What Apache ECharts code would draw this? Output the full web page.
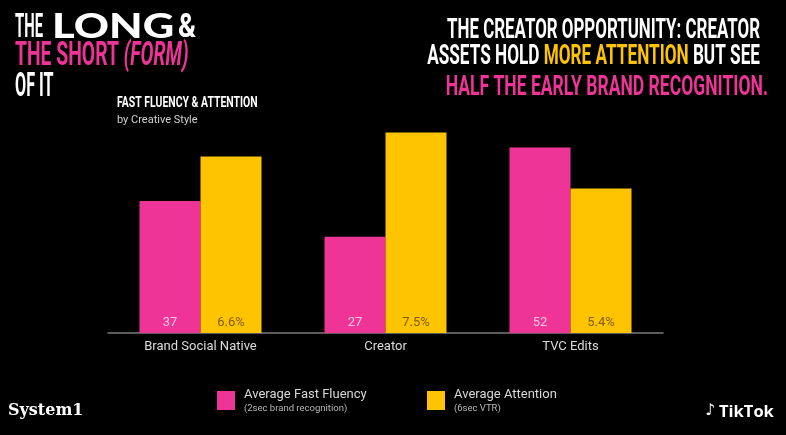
<!DOCTYPE html>
<html>
<head>
<meta charset="utf-8">
<script src="https://cdn.jsdelivr.net/npm/echarts@6/dist/echarts.min.js"></script>
<style>
  html, body { margin: 0; padding: 0; background: #000; }
  #chart { width: 786px; height: 435px; }
</style>
</head>
<body>
<div id="chart"></div>
<script>
const categories = ['Brand Social Native', 'Creator', 'TVC Edits'];
const fastFluency = [37, 27, 52];
const attention = [6.6, 7.5, 5.4];

const PINK = '#ee3497';
const YELLOW = '#ffc400';
const HEAD = 'Roboto';

let chart = echarts.init(document.getElementById('chart'));

// the headline font is a very condensed display face; squeeze Roboto to the same ink width
let measureCtx = document.createElement('canvas').getContext('2d');
function inkWidth(text, font) {
    measureCtx.font = font;
    let m = measureCtx.measureText(text);
    return m.actualBoundingBoxLeft + m.actualBoundingBoxRight;
}
function squeezed(text, plain, x, y, width, size, fill, align, extra) {
    let weight = (extra && extra.fontWeight) || 'bold';
    let family = (extra && extra.fontFamily) || HEAD;
    let s = width / inkWidth(plain, weight + ' ' + size + 'px ' + family);
    return {
        type: 'text', x: x, y: y, scaleX: s,
        style: Object.assign({
            text: text, fontFamily: family, fontWeight: weight, fontSize: size, fill: fill,
            align: align || 'left', verticalAlign: 'middle'
        }, extra || {})
    };
}

let legendRich = {
    a: { fontFamily: 'Roboto', fontSize: 13, color: '#d8d8d8', lineHeight: 16 },
    b: { fontFamily: 'Roboto', fontSize: 9.5, color: '#b8b8b8', lineHeight: 12 }
};
let legendSub = {
    'Average Fast Fluency': '(2sec brand recognition)',
    'Average Attention': '(6sec VTR)'
};
function legendText(name) {
    return '{a|' + name + '}\n{b|' + legendSub[name] + '}';
}

let option = {
    backgroundColor: '#000',
    animation: false,
    grid: { left: 108, right: 123, top: 119, bottom: 102 },
    legend: [
        {
            data: ['Average Fast Fluency'],
            left: 217, top: 388, padding: 0,
            icon: 'rect', itemWidth: 18, itemHeight: 19,
            formatter: legendText,
            textStyle: { rich: legendRich, padding: [0, 0, 0, 4] }
        },
        {
            data: ['Average Attention'],
            left: 427, top: 388, padding: 0,
            icon: 'rect', itemWidth: 18, itemHeight: 19,
            formatter: legendText,
            textStyle: { rich: legendRich, padding: [0, 0, 0, 4] }
        }
    ],
    xAxis: {
        type: 'category',
        data: categories,
        axisLine: { lineStyle: { color: '#7a7a7a', width: 1.5 } },
        axisTick: { show: false },
        axisLabel: { color: '#dcdcdc', fontFamily: 'Roboto', fontSize: 13, margin: 7 }
    },
    yAxis: [
        { type: 'value', min: 0, max: 60, show: false, splitLine: { show: false } },
        { type: 'value', min: 0, max: 8, show: false, splitLine: { show: false } }
    ],
    series: [
        {
            name: 'Average Fast Fluency',
            type: 'bar',
            yAxisIndex: 0,
            data: fastFluency,
            barWidth: 61,
            barGap: '0%',
            itemStyle: { color: PINK },
            label: {
                show: true, position: 'insideBottom', distance: 4,
                color: '#f9c6e2', fontFamily: 'Roboto', fontSize: 13
            }
        },
        {
            name: 'Average Attention',
            type: 'bar',
            yAxisIndex: 1,
            data: attention,
            barWidth: 61,
            barGap: '0%',
            itemStyle: { color: YELLOW },
            label: {
                show: true, position: 'insideBottom', distance: 4,
                formatter: '{c}%',
                color: '#7d5d00', fontFamily: 'Roboto', fontSize: 13
            }
        }
    ],
    graphic: [
        // top left headline
        squeezed('THE', 'THE', 15, 28, 28, 34, '#fff'),
        squeezed('LONG', 'LONG', 52, 27, 118, 35, '#fff', 'left', { fontFamily: 'Lato', fontWeight: 900 }),
        squeezed('&', '&', 178, 28, 17, 34, '#fff'),
        squeezed('THE SHORT {i|(FORM)}', 'THE SHORT (FORM)', 15, 56, 175, 34, PINK, 'left', {
            rich: { i: { fontFamily: HEAD, fontWeight: 'bold', fontStyle: 'italic', fontSize: 34, fill: PINK } }
        }),
        squeezed('OF IT', 'OF IT', 15, 87, 38, 34, '#fff'),
        // top right headline
        squeezed('THE CREATOR OPPORTUNITY: CREATOR', 'THE CREATOR OPPORTUNITY: CREATOR',
            760, 31, 313, 28, '#fff', 'right'),
        squeezed('ASSETS HOLD {y|MORE ATTENTION} BUT SEE', 'ASSETS HOLD MORE ATTENTION BUT SEE',
            760, 57, 333, 28, '#fff', 'right', {
                rich: { y: { fontFamily: HEAD, fontWeight: 'bold', fontSize: 28, fill: YELLOW } }
            }),
        squeezed('HALF THE EARLY BRAND RECOGNITION.', 'HALF THE EARLY BRAND RECOGNITION.',
            768, 88, 321, 28, PINK, 'right'),
        // chart title
        squeezed('FAST FLUENCY & ATTENTION', 'FAST FLUENCY & ATTENTION', 117, 103, 140, 15.5, '#fff'),
        {
            type: 'text', left: 117, top: 115,
            style: { text: 'by Creative Style', fontFamily: 'Roboto', fontSize: 11, fill: '#d0d0d0' }
        },
        // footer logos
        {
            type: 'text', left: 8, top: 403,
            style: { text: 'System1', fontFamily: '"DejaVu Serif", serif', fontWeight: 'bold', fontSize: 16, fill: '#fff' }
        },
        {
            type: 'text', left: 705, top: 403,
            style: {
                text: '♪', fontFamily: 'DejaVu Sans', fontSize: 16, fill: '#fff',
                textShadowColor: '#25f4ee', textShadowOffsetX: -1, textShadowOffsetY: -1
            }
        },
        {
            type: 'text', left: 719, top: 404,
            style: { text: 'TikTok', fontFamily: '"Open Sans", sans-serif', fontWeight: 'bold', fontSize: 16.5, fill: '#fff' }
        }
    ]
};

chart.setOption(option);

window.addEventListener('resize', function () {
    chart.resize();
});
</script>
</body>
</html>
